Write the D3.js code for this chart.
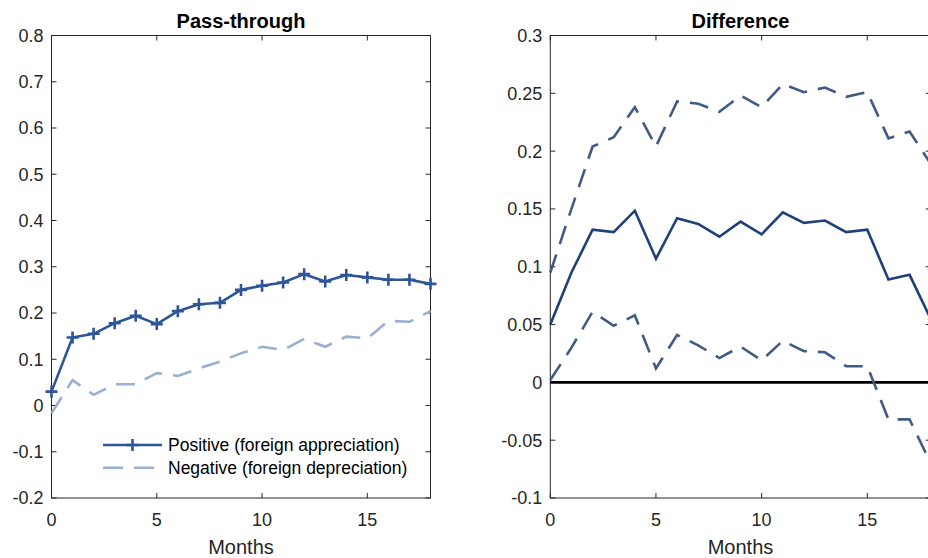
<!DOCTYPE html>
<html>
<head>
<meta charset="utf-8">
<script src="https://cdn.jsdelivr.net/npm/d3@7"></script>
<style>
  html, body { margin: 0; padding: 0; background: #fff; }
  svg { display: block; font-family: "Liberation Sans", Arial, Helvetica, sans-serif; }
</style>
</head>
<body>
<svg id="chart" width="928" height="558"></svg>
<script>
// ---- Data ----
const months = [0,1,2,3,4,5,6,7,8,9,10,11,12,13,14,15,16,17,18];
const positive = [0.030,0.147,0.155,0.178,0.194,0.176,0.204,0.219,0.222,0.250,0.259,0.266,0.284,0.268,0.282,0.277,0.272,0.272,0.263];
const negative = [-0.017,0.055,0.023,0.046,0.046,0.070,0.064,0.080,0.095,0.113,0.127,0.120,0.144,0.127,0.149,0.145,0.183,0.181,0.204];
const diffMid = [0.050,0.095,0.132,0.130,0.1485,0.107,0.142,0.137,0.126,0.139,0.128,0.147,0.138,0.140,0.130,0.132,0.089,0.093,0.055];
const diffUpper = [0.095,0.150,0.204,0.212,0.238,0.204,0.243,0.241,0.234,0.248,0.238,0.258,0.251,0.255,0.247,0.251,0.211,0.217,0.189];
const diffLower = [0.002,0.030,0.061,0.049,0.058,0.012,0.041,0.032,0.021,0.031,0.019,0.036,0.027,0.026,0.014,0.014,-0.032,-0.032,-0.070];
const xTicks = [0,5,10,15];
const leftYTicks = [-0.2,-0.1,0,0.1,0.2,0.3,0.4,0.5,0.6,0.7,0.8];
const rightYTicks = [-0.1,-0.05,0,0.05,0.1,0.15,0.2,0.25,0.3];
const legendLabels = ["Positive (foreign appreciation)", "Negative (foreign depreciation)"];
const titles = ["Pass-through", "Difference"];
const xLabel = "Months";

// ---- Setup ----
const svg = d3.select("#chart");
const axisColor = "#262626";
const plotTop = 35.5, plotBottom = 498;
const tickFont = 18, titleFont = 20, labelFont = 20, legendFont = 17.5;

function makePanel(x0, x1, yDomain, yTicks, yFmt, title) {
  const g = svg.append("g");
  const x = d3.scaleLinear().domain([0, 18]).range([x0, x1]);
  const y = d3.scaleLinear().domain(yDomain).range([plotBottom, plotTop]);
  const tl = 5;
  g.append("rect").attr("x", x0).attr("y", plotTop).attr("width", x1 - x0).attr("height", plotBottom - plotTop)
    .attr("fill", "none").attr("stroke", axisColor).attr("stroke-width", 1);
  yTicks.forEach(v => {
    const yy = y(v);
    g.append("line").attr("x1", x0).attr("x2", x0 + tl).attr("y1", yy).attr("y2", yy).attr("stroke", axisColor);
    g.append("line").attr("x1", x1).attr("x2", x1 - tl).attr("y1", yy).attr("y2", yy).attr("stroke", axisColor);
    g.append("text").attr("x", x0 - 8).attr("y", yy).attr("dy", "0.36em").attr("text-anchor", "end")
      .attr("font-size", tickFont).attr("fill", axisColor).text(yFmt(v));
  });
  xTicks.forEach(t => {
    const xx = x(t);
    g.append("line").attr("x1", xx).attr("x2", xx).attr("y1", plotBottom).attr("y2", plotBottom - tl).attr("stroke", axisColor);
    g.append("line").attr("x1", xx).attr("x2", xx).attr("y1", plotTop).attr("y2", plotTop + tl).attr("stroke", axisColor);
    g.append("text").attr("x", xx).attr("y", 525.5).attr("text-anchor", "middle")
      .attr("font-size", tickFont).attr("fill", axisColor).text(t);
  });
  g.append("text").attr("x", (x0 + x1) / 2).attr("y", 27.5).attr("text-anchor", "middle")
    .attr("font-size", titleFont).attr("font-weight", "bold").attr("fill", "#000").text(title);
  g.append("text").attr("x", (x0 + x1) / 2).attr("y", 553.5).attr("text-anchor", "middle")
    .attr("font-size", labelFont).attr("fill", axisColor).text(xLabel);
  return {g, x, y};
}

const fmtLeft = v => v === 0 ? "0" : String(+v.toFixed(1));
const fmtRight = v => v === 0 ? "0" : String(+v.toFixed(2));

// ---- Left panel ----
const L = makePanel(51.5, 430.5, [-0.2, 0.8], leftYTicks, fmtLeft, titles[0]);
const lineL = d3.line().x((d, i) => L.x(months[i])).y(d => L.y(d));
const posColor = "#2D5597", negColor = "#9AB0D0";

L.g.append("path").datum(negative).attr("d", lineL).attr("fill", "none")
  .attr("stroke", negColor).attr("stroke-width", 2.6).attr("stroke-dasharray", "19,11");
L.g.append("path").datum(positive).attr("d", lineL).attr("fill", "none")
  .attr("stroke", posColor).attr("stroke-width", 2.6).attr("stroke-linejoin", "round");
const ms = 6;
L.g.selectAll(".plus").data(positive).enter().append("path")
  .attr("d", (d, i) => {
    const cx = L.x(months[i]), cy = L.y(d);
    return `M${cx - ms},${cy}H${cx + ms}M${cx},${cy - ms}V${cy + ms}`;
  })
  .attr("stroke", posColor).attr("stroke-width", 2.6).attr("fill", "none");

// legend
const lgX0 = 103, lgX1 = 162, lgY = [445, 467.7];
L.g.append("line").attr("x1", lgX0).attr("x2", lgX1).attr("y1", lgY[0]).attr("y2", lgY[0])
  .attr("stroke", posColor).attr("stroke-width", 2.6);
L.g.append("path").attr("d", `M${(lgX0+lgX1)/2 - ms},${lgY[0]}H${(lgX0+lgX1)/2 + ms}M${(lgX0+lgX1)/2},${lgY[0]-ms}V${lgY[0]+ms}`)
  .attr("stroke", posColor).attr("stroke-width", 2.6);
L.g.append("line").attr("x1", lgX0).attr("x2", lgX1).attr("y1", lgY[1]).attr("y2", lgY[1])
  .attr("stroke", negColor).attr("stroke-width", 2.6).attr("stroke-dasharray", "20,11");
legendLabels.forEach((lab, i) => {
  L.g.append("text").attr("x", 168).attr("y", lgY[i]).attr("dy", "0.36em")
    .attr("font-size", legendFont).attr("fill", "#000").text(lab);
});

// ---- Right panel ----
const R = makePanel(550.3, 930.7, [-0.1, 0.3], rightYTicks, fmtRight, titles[1]);
const lineR = d3.line().x((d, i) => R.x(months[i])).y(d => R.y(d));
const midColor = "#1F4078", bandColor = "#415C84";
R.g.append("line").attr("x1", R.x(0)).attr("x2", R.x(18)).attr("y1", R.y(0)).attr("y2", R.y(0))
  .attr("stroke", "#000").attr("stroke-width", 2.6);
[diffUpper, diffLower].forEach(arr => {
  R.g.append("path").datum(arr).attr("d", lineR).attr("fill", "none")
    .attr("stroke", bandColor).attr("stroke-width", 2.6).attr("stroke-dasharray", "19,11");
});
R.g.append("path").datum(diffMid).attr("d", lineR).attr("fill", "none")
  .attr("stroke", midColor).attr("stroke-width", 2.6);
</script>
</body>
</html>
